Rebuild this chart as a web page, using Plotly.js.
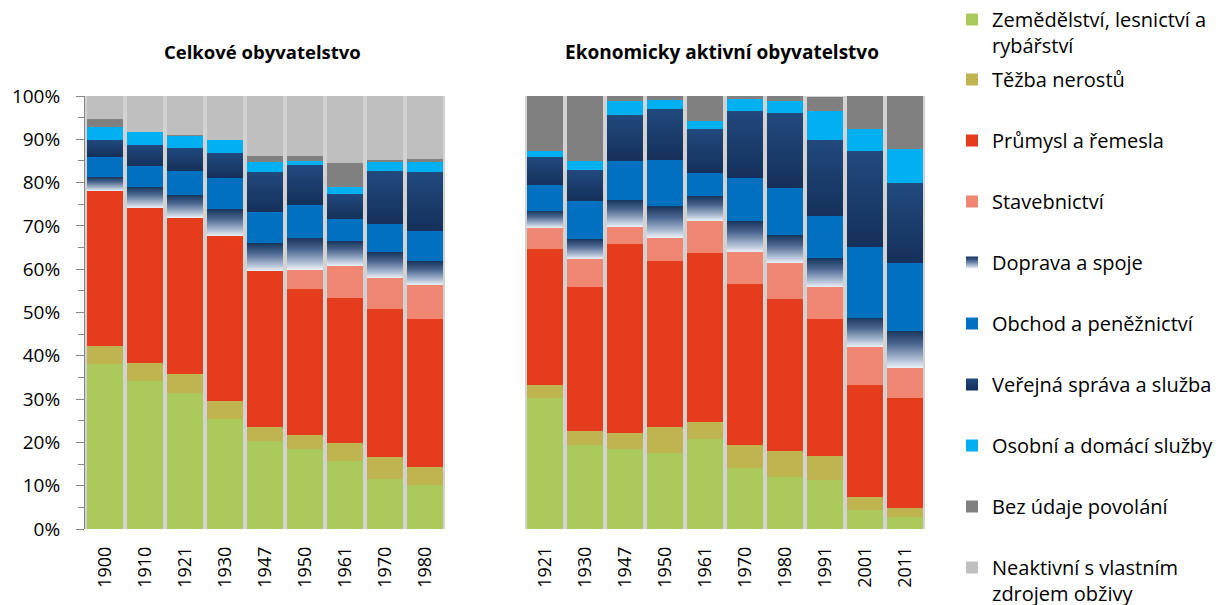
<!DOCTYPE html>
<html>
<head>
<meta charset="utf-8">
<script src="https://cdn.plot.ly/plotly-3.0.1.min.js"></script>
<style>html,body{margin:0;padding:0;background:#fff;}#chart{width:1221px;height:605px;}</style>
</head>
<body>
<div id="chart"></div>
<script>
// ---- Data ----
const yearsTotal = ['1900','1910','1921','1930','1947','1950','1961','1970','1980'];
const yearsActive = ['1921','1930','1947','1950','1961','1970','1980','1991','2001','2011'];

const seriesNames = [
  'Zemědělství, lesnictví a<br>rybářství',
  'Těžba nerostů',
  'Průmysl a řemesla',
  'Stavebnictví',
  'Doprava a spoje',
  'Obchod a peněžnictví',
  'Veřejná správa a služba',
  'Osobní a domácí služby',
  'Bez údaje povolání',
  'Neaktivní s vlastním<br>zdrojem obživy'
];

// Celkové obyvatelstvo (share in %)
const totAgri      = [38.1, 34.2, 31.4, 25.4, 20.3, 18.5, 15.7, 11.5, 10.2];
const totMining    = [4.1, 4.1, 4.4, 4.1, 3.2, 3.2, 4.1, 5.1, 4.1];
const totIndustry  = [35.8, 35.8, 36.0, 38.1, 36.0, 33.7, 33.5, 34.2, 34.2];
const totBuild     = [0, 0, 0, 0, 0, 4.4, 7.4, 7.1, 7.8];
const totTransport = [3.3, 4.9, 5.3, 6.2, 6.5, 7.4, 5.8, 6.0, 5.5];
const totTrade     = [4.6, 4.8, 5.5, 7.2, 7.2, 7.6, 5.0, 6.5, 7.0];
const totPublic    = [3.9, 4.9, 5.3, 5.8, 9.2, 9.2, 5.8, 12.2, 13.6];
const totPersonal  = [3.0, 3.1, 2.9, 3.0, 2.4, 1.0, 1.6, 2.2, 2.3];
const totUnknown   = [1.8, 0, 0.2, 0, 1.3, 1.1, 5.6, 0.4, 0.7];
const totInactive  = [5.4, 8.2, 9.0, 10.2, 13.9, 13.9, 15.5, 14.8, 14.6];

// Ekonomicky aktivní obyvatelstvo (share in %)
const actAgri      = [30.2, 19.4, 18.5, 17.5, 20.8, 14.1, 12.0, 11.3, 4.4, 2.8];
const actMining    = [3.0, 3.2, 3.7, 6.0, 3.9, 5.3, 6.0, 5.5, 3.0, 2.0];
const actIndustry  = [31.4, 33.2, 43.6, 38.3, 39.0, 37.1, 35.1, 31.7, 25.8, 25.4];
const actBuild     = [4.9, 6.5, 3.9, 5.4, 7.4, 7.4, 8.3, 7.3, 8.8, 7.0];
const actTransport = [4.0, 4.7, 6.3, 7.3, 5.7, 7.2, 6.4, 6.7, 6.8, 8.6];
const actTrade     = [5.9, 8.7, 8.9, 10.7, 5.4, 9.9, 10.9, 9.7, 16.3, 15.6];
const actPublic    = [6.5, 7.2, 10.6, 11.7, 10.1, 15.5, 17.3, 17.7, 22.1, 18.4];
const actPersonal  = [1.3, 2.0, 3.3, 2.2, 1.9, 2.7, 2.8, 6.6, 5.1, 7.9];
const actUnknown   = [12.8, 15.1, 1.2, 0.9, 5.8, 0.8, 1.2, 3.2, 7.7, 12.3];
const actInactive  = [0, 0, 0, 0, 0, 0, 0, 0, 0, 0];

const yTickVals = [0,10,20,30,40,50,60,70,80,90,100];
const yTickText = ['0%','10%','20%','30%','40%','50%','60%','70%','80%','90%','100%'];

// ---- Styles ----
const colors = ['#acca5b','#c0b451','#e43c1c','#f08772','#3a5680','#0070c0','#1c3f6e','#00b0f0','#808080','#bfbfbf'];

const totSeries = [totAgri,totMining,totIndustry,totBuild,totTransport,totTrade,totPublic,totPersonal,totUnknown,totInactive];
const actSeries = [actAgri,actMining,actIndustry,actBuild,actTransport,actTrade,actPublic,actPersonal,actUnknown,actInactive];

const traces = [];
seriesNames.forEach((nm, i) => {
  traces.push({
    type:'bar', x: yearsTotal, y: totSeries[i], name: nm, xaxis:'x', yaxis:'y',
    marker:{color: colors[i], line:{width:0}}, legendgroup:'g'+i, showlegend:true,
    legend: i === 0 ? 'legend' : 'legend2',
    meta: 's'+i, hoverinfo:'skip'
  });
});
seriesNames.forEach((nm, i) => {
  traces.push({
    type:'bar', x: yearsActive, y: actSeries[i], name: nm, xaxis:'x2', yaxis:'y2',
    marker:{color: colors[i], line:{width:0}}, legendgroup:'g'+i, showlegend:false,
    legend: i === 0 ? 'legend' : 'legend2',
    meta: 's'+i, hoverinfo:'skip'
  });
});

const FONT = '"Open Sans", Lato, sans-serif';
const W = 1221, H = 605;
const legendCommon = {x:952/W, xanchor:'left', yanchor:'top', font:{size:20, family:FONT}, tracegroupgap:32,
  bgcolor:'rgba(0,0,0,0)', traceorder:'grouped', valign:'top', itemclick:false, itemdoubleclick:false};
const layout = {
  width: W, height: H,
  margin:{l:0,r:0,t:0,b:0, autoexpand:false},
  paper_bgcolor:'#ffffff',
  plot_bgcolor:'#d2d2d2',
  barmode:'stack',
  bargap:0.1,
  font:{family:FONT, size:16, color:'#000'},
  showlegend:true,
  xaxis:{domain:[85/W, 445/W], type:'category', anchor:'y', tickangle:-90, ticks:'', showline:false,
         showgrid:false, zeroline:false, ticklabelstandoff:13, tickfont:{size:18}, automargin:false, fixedrange:true},
  yaxis:{domain:[1-529/H, 1-96/H], range:[0,100], tickvals:yTickVals, ticktext:yTickText, ticks:'outside', ticklen:8,
         tickcolor:'#868686', showline:true, linecolor:'#868686', linewidth:1, showgrid:false, zeroline:false,
         minor:{dtick:5, ticks:'outside', ticklen:6, tickcolor:'#868686'}, ticklabelstandoff:12,
         tickfont:{size:19}, automargin:false, fixedrange:true},
  xaxis2:{domain:[525/W, 925/W], type:'category', anchor:'y2', tickangle:-90, ticks:'', showline:false,
          showgrid:false, zeroline:false, ticklabelstandoff:13, tickfont:{size:18}, automargin:false, fixedrange:true},
  yaxis2:{domain:[1-529/H, 1-96/H], range:[0,100], anchor:'x2', visible:false, fixedrange:true},
  legend:Object.assign({}, legendCommon, {y:1}),
  legend2:Object.assign({}, legendCommon, {y:1-60/H}),
  annotations:[
    {text:'<b>Celkové obyvatelstvo</b>', xref:'paper', yref:'paper', x:262/W, y:1-52/H, xanchor:'center', yanchor:'middle',
     showarrow:false, font:{size:18.5, family:FONT}},
    {text:'<b>Ekonomicky aktivní obyvatelstvo</b>', xref:'paper', yref:'paper', x:722/W, y:1-52/H, xanchor:'center', yanchor:'middle',
     showarrow:false, font:{size:19, family:FONT}}
  ]
};

Plotly.newPlot('chart', traces, layout, {displayModeBar:false}).then(gd => {
  const svg = gd.querySelector('svg.main-svg');
  let defs = svg.querySelector('defs');
  if (!defs) { defs = document.createElementNS('http://www.w3.org/2000/svg','defs'); svg.insertBefore(defs, svg.firstChild); }
  function addGrad(id, stops) {
    const g = document.createElementNS('http://www.w3.org/2000/svg','linearGradient');
    g.setAttribute('id', id); g.setAttribute('x1','0'); g.setAttribute('y1','0'); g.setAttribute('x2','0'); g.setAttribute('y2','1');
    stops.forEach(s => {
      const st = document.createElementNS('http://www.w3.org/2000/svg','stop');
      st.setAttribute('offset', s[0]); st.setAttribute('stop-color', s[1]); g.appendChild(st);
    });
    defs.appendChild(g);
  }
  addGrad('gradTransport', [[0,'#17365d'],[0.35,'#4a6690'],[0.75,'#a9b9d0'],[1,'#eef2f8']]);
  addGrad('gradPublic', [[0,'#21497e'],[1,'#15305a']]);
  const gradFor = {s4:'url(#gradTransport)', s6:'url(#gradPublic)'};
  gd.querySelectorAll('g.trace.bars').forEach(g => {
    const d = g.__data__; const tr = d && d[0] && d[0].trace;
    if (tr && gradFor[tr.meta]) g.querySelectorAll('path').forEach(p => { p.style.fill = gradFor[tr.meta]; });
  });
  gd.querySelectorAll('.traces').forEach(g => {
    const d = g.__data__; let tr = d && d[0] && d[0].trace; if (!tr && d && d[0] && d[0][0]) tr = d[0][0].trace;
    if (tr && gradFor[tr.meta]) g.querySelectorAll('.legendpoints path').forEach(p => { p.style.fill = gradFor[tr.meta]; });
  });
});
</script>
</body>
</html>
